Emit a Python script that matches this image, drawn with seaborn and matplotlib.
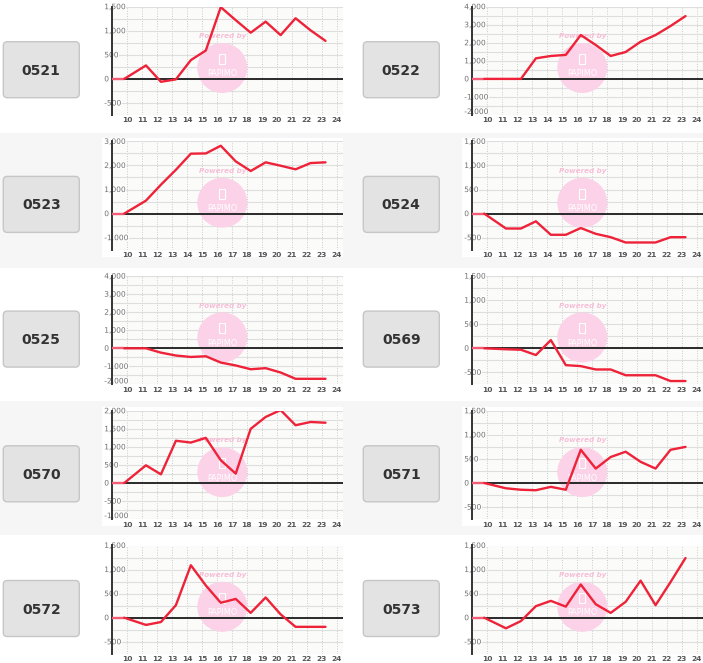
import matplotlib
matplotlib.use("Agg")
import matplotlib.pyplot as plt
import matplotlib.patheffects as pe
from matplotlib.patches import Rectangle, FancyBboxPatch, Circle
import numpy as np
import pandas as pd
import seaborn as sns

# --- data -------------------------------------------------------------
codes = ["0521", "0522", "0523", "0524", "0525", "0569", "0570", "0571", "0572", "0573"]

# time of day (hours) of each sample, first one is the open at 9:00
times = [9.0, 9.8, 11.25, 12.25, 13.25, 14.25, 15.25, 16.25, 17.25,
         18.25, 19.25, 20.25, 21.25, 22.25, 23.25]

pl_0521 = [0, 0, 280, -60, -10, 390, 590, 1490, 1220, 960, 1190, 910, 1260, 1010, 790]
pl_0522 = [0, 0, 0, 0, 1140, 1270, 1330, 2430, 1880, 1270, 1490, 2060, 2430, 2930, 3480]
pl_0523 = [0, 0, 540, 1200, 1820, 2490, 2500, 2820, 2170, 1770, 2130, 1990, 1840, 2100, 2130]
pl_0524 = [0, 0, -310, -310, -160, -440, -440, -300, -420, -490, -600, -600, -600, -490, -490]
pl_0525 = [0, 0, 0, -240, -400, -480, -440, -790, -950, -1160, -1100, -1340, -1690, -1690, -1690]
pl_0569 = [0, 0, -20, -30, -140, 170, -350, -370, -440, -440, -560, -560, -560, -680, -680]
pl_0570 = [0, 0, 490, 240, 1170, 1120, 1250, 630, 260, 1500, 1830, 2020, 1600, 1690, 1670]
pl_0571 = [0, 0, -110, -140, -150, -80, -140, 690, 300, 540, 650, 440, 300, 690, 750]
pl_0572 = [0, 0, -150, -90, 260, 1090, 670, 310, 390, 100, 420, 70, -190, -190, -190]
pl_0573 = [0, 0, -220, -70, 240, 350, 230, 690, 280, 100, 330, 770, 260, 740, 1240]

series = {
    "0521": pl_0521, "0522": pl_0522, "0523": pl_0523, "0524": pl_0524,
    "0525": pl_0525, "0569": pl_0569, "0570": pl_0570, "0571": pl_0571,
    "0572": pl_0572, "0573": pl_0573,
}

# (ymin, ymax, label step) for each machine
y_ranges = {
    "0521": (-750, 1500, 500), "0522": (-2000, 4000, 1000),
    "0523": (-1500, 3000, 1000), "0524": (-750, 1500, 500),
    "0525": (-2000, 4000, 1000), "0569": (-750, 1500, 500),
    "0570": (-1000, 2000, 500), "0571": (-750, 1500, 500),
    "0572": (-750, 1500, 500), "0573": (-750, 1500, 500),
}

hour_ticks = list(range(10, 25))

# --- layout / style ---------------------------------------------------
W, H, DPI = 703, 663, 100
RED = "#ee2238"
ROW_EDGES = [0, 133, 268, 401, 535, 663]
COL_X = [0, 360]

sns.set_style("white")
plt.rcParams["font.family"] = ["DejaVu Sans"]

fig = plt.figure(figsize=(W / DPI, H / DPI), dpi=DPI)
fig.patch.set_facecolor("white")


def px_rect(x, y, w, h, **kw):
    # box given in pixels from the top-left corner
    return Rectangle((x / DPI, (H - y - h) / DPI), w / DPI, h / DPI,
                     transform=fig.dpi_scale_trans, **kw)


def px_pt(x, y):
    return x / DPI, (H - y) / DPI


for r in range(5):
    shade = "white" if r % 2 == 0 else "#f6f6f6"
    fig.add_artist(px_rect(0, ROW_EDGES[r], W, ROW_EDGES[r + 1] - ROW_EDGES[r],
                           facecolor=shade, edgecolor="none", zorder=-5))

AX_LEFT, AX_W, AX_H = 112.3, 230.4, 108.3

for i, code in enumerate(codes):
    r, c = divmod(i, 2)
    cx0 = COL_X[c]
    top = 6.7 + r * 134.7
    ymin, ymax, step = y_ranges[code]

    # white chart widget behind the axes
    fig.add_artist(px_rect(cx0 + 101.7, top - 3.4, 241, AX_H + 10.4,
                           facecolor="white", edgecolor="none", zorder=-4))

    # grey name box
    bx, by, bw, bh = cx0 + 3.3, top + 63 - 28, 76, 56
    fig.add_artist(FancyBboxPatch((bx / DPI, (H - by - bh) / DPI), bw / DPI, bh / DPI,
                                  boxstyle="round,pad=0,rounding_size=0.04",
                                  transform=fig.dpi_scale_trans,
                                  facecolor="#e3e3e3", edgecolor="#c6c6c6", lw=1, zorder=-3))
    fig.text(*px_pt(bx + bw / 2, by + bh / 2 + 1), code, transform=fig.dpi_scale_trans,
             ha="center", va="center", fontsize=10, fontweight="bold", color="#333333")

    left = cx0 + AX_LEFT
    ax = fig.add_axes([left / W, 1 - (top + AX_H) / H, AX_W / W, AX_H / H])
    ax.set_facecolor("#fbfcf9")
    ax.set_axisbelow(True)

    # watermark
    wx, wy = left + 110, top + 61.3
    ax.add_patch(Circle(px_pt(wx, wy), 25 / DPI, transform=fig.dpi_scale_trans,
                        facecolor="#fbd2e7", edgecolor="none", zorder=1))
    ax.add_patch(Rectangle(px_pt(wx - 3, wy - 4), 6 / DPI, 10 / DPI,
                           transform=fig.dpi_scale_trans, facecolor="none",
                           edgecolor="white", lw=0.8, zorder=1.1))
    ax.text(*px_pt(wx, wy + 6), "PAPIMO", transform=fig.dpi_scale_trans,
            ha="center", va="center", fontsize=5.9, color="white", zorder=1.1)
    ax.text(*px_pt(wx, top + 29.5), "Powered by", transform=fig.dpi_scale_trans,
            ha="center", va="center", fontsize=5.1, color="#f8bdd8",
            fontweight="bold", fontstyle="italic", zorder=1.1)

    ax.axhline(0, color="#2a2a2a", lw=1.4, zorder=2)

    df = pd.DataFrame({"hour": times, "pl": series[code]})
    sns.lineplot(data=df.iloc[:2], x="hour", y="pl", ax=ax, color="#f25c75",
                 lw=1.7, estimator=None, sort=False, zorder=3)
    sns.lineplot(data=df.iloc[1:], x="hour", y="pl", ax=ax, color=RED,
                 lw=1.7, estimator=None, sort=False, zorder=3)

    ax.set_xlim(9.0, 24.4)
    ax.set_ylim(ymin, ymax)
    ax.set_xlabel("")
    ax.set_ylabel("")

    ax.set_xticks(hour_ticks)
    ax.set_xticklabels([str(h) for h in hour_ticks])
    ax.tick_params(axis="x", length=0, pad=1.8, labelsize=5.4, labelcolor="#555555")
    for lbl in ax.get_xticklabels():
        lbl.set_fontweight("bold")

    first = int(np.ceil(ymin / step) * step)
    major = list(range(first, ymax + 1, step))
    ax.set_yticks(major)
    ax.set_yticklabels([f"{v:,}" for v in major])
    ax.set_yticks(np.arange(ymin, ymax + 1, step / 2), minor=True)
    ax.tick_params(axis="y", which="both", length=0, pad=5.8, labelsize=5.4,
                   labelcolor="#707070")
    for v, lbl in zip(major, ax.get_yticklabels()):
        lbl.set_horizontalalignment("left")
        lbl.set_path_effects([pe.withStroke(linewidth=1.5, foreground="white")])
        if v == ymin:
            # lowest label sits just above the bottom edge
            lbl.set_verticalalignment("bottom")

    ax.grid(axis="y", which="both", color="#dedede", lw=0.8, ls="-")
    ax.grid(axis="x", which="major", color="#c9c9c9", lw=0.7, ls=(0, (1, 1.6)))

    for side in ["top", "right", "bottom"]:
        ax.spines[side].set_visible(False)
    ax.spines["left"].set_color("#333333")
    ax.spines["left"].set_linewidth(1.4)

fig.savefig("out.png", dpi=DPI)
